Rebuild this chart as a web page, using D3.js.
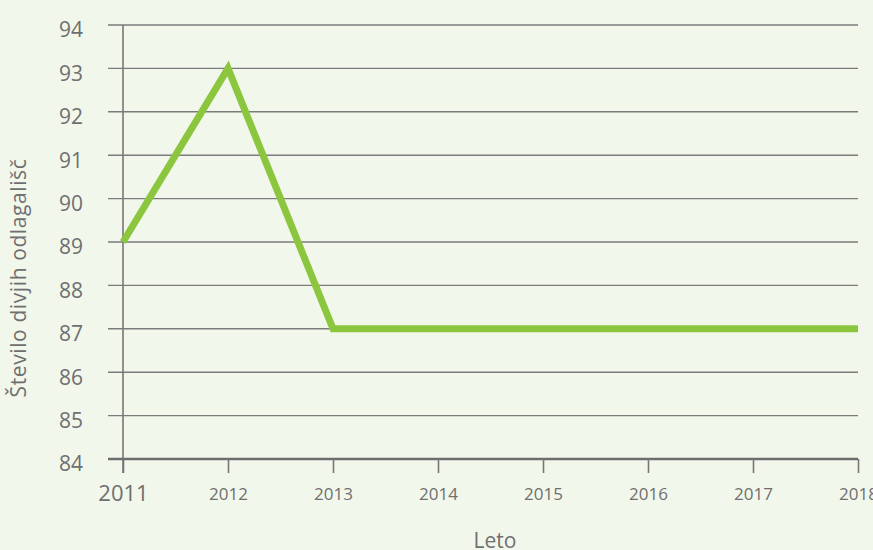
<!DOCTYPE html>
<meta charset="utf-8">
<style>
body { margin: 0; background: #f2f7ec; }
svg { display: block; }
text { font-family: "Open Sans", Lato, sans-serif; fill: #6f6f6f; }
.grid line { stroke: #7b7b7b; stroke-width: 1.4px; }
</style>
<svg width="873" height="550"></svg>
<script src="https://cdn.jsdelivr.net/npm/d3@7"></script>
<script>

var years = [2011, 2012, 2013, 2014, 2015, 2016, 2017, 2018];
var counts = [89, 93, 87, 87, 87, 87, 87, 87];
var yTicks = [84, 85, 86, 87, 88, 89, 90, 91, 92, 93, 94];

var svg = d3.select("svg");

var x = d3.scaleLinear().domain([2011, 2018]).range([123, 858]);
var y = d3.scaleLinear().domain([84, 94]).range([459, 25]);

// horizontal grid, running past the y axis like ticks
svg.append("g")
    .attr("class", "grid")
    .selectAll("line")
    .data(yTicks.slice(1))
    .enter().append("line")
    .attr("x1", 108)
    .attr("x2", 858)
    .attr("y1", function(d) { return y(d); })
    .attr("y2", function(d) { return y(d); });

// y axis line
svg.append("line")
    .attr("x1", x(2011)).attr("x2", x(2011))
    .attr("y1", y(94)).attr("y2", y(84) + 14)
    .attr("stroke", "#777").attr("stroke-width", 1.6);

// x axis
var xAxis = d3.axisBottom(x)
    .tickValues(years)
    .tickFormat(d3.format("d"))
    .tickSize(14)
    .tickSizeOuter(0)
    .tickPadding(12);

var gx = svg.append("g")
    .attr("transform", "translate(0," + y(84) + ")")
    .call(xAxis);

gx.select(".domain")
    .attr("d", "M108,0H" + x(2018))
    .attr("stroke", "#6d6d6d")
    .attr("stroke-width", 2.6);
gx.selectAll(".tick line").attr("stroke", "#777").attr("stroke-width", 1.6);
gx.selectAll(".tick text")
    .style("font-size", function(d) { return d === 2011 ? "22px" : "17px"; })
    .style("font-family", "'Open Sans', sans-serif")
    .attr("dy", function(d) { return d === 2011 ? "0.72em" : "0.9em"; })
    .attr("fill", "#6f6f6f");

// y tick labels
svg.append("g")
    .selectAll("text")
    .data(yTicks)
    .enter().append("text")
    .attr("x", 83)
    .attr("y", function(d) { return y(d) + 5; })
    .attr("dy", "0.35em")
    .attr("text-anchor", "end")
    .style("font-size", "21px")
    .text(function(d) { return d; });

// data line
var line = d3.line()
    .x(function(d, i) { return x(years[i]); })
    .y(function(d) { return y(d); });

svg.append("path")
    .datum(counts)
    .attr("d", line)
    .attr("fill", "none")
    .attr("stroke", "#8cc63f")
    .attr("stroke-width", 7)
    .attr("stroke-linejoin", "miter");

// axis titles
svg.append("text")
    .attr("transform", "translate(26,278) rotate(-90)")
    .attr("text-anchor", "middle")
    .style("font-size", "21px")
    .style("letter-spacing", "0.6px")
    .text("Število divjih odlagališč");

svg.append("text")
    .attr("x", 495)
    .attr("y", 548)
    .attr("text-anchor", "middle")
    .style("font-size", "21px")
    .text("Leto");

</script>
